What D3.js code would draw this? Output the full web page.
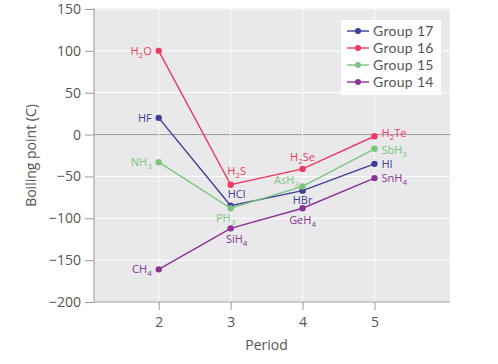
<!DOCTYPE html>
<html><head><meta charset="utf-8">
<script src="https://cdn.jsdelivr.net/npm/d3@7"></script>
<style>
body{margin:0;background:#fff;}
text{font-family:"Open Sans",sans-serif;}
</style></head>
<body><svg id="c" width="498" height="364"></svg>
<script>
const periods = [2, 3, 4, 5];
const yTicks = [150, 100, 50, 0, -50, -100, -150, -200];
const seriesNames = ["Group 17", "Group 16", "Group 15", "Group 14"];
const seriesColors = ["#3d3d98", "#ee3a60", "#7cc57c", "#8c3196"];
const group17 = [20, -85, -67, -35];
const group16 = [100, -60, -41, -2];
const group15 = [-33, -88, -62, -17];
const group14 = [-161, -112, -88, -52];
const labels17 = [["HF",""],["HCl",""],["HBr",""],["HI",""]];
const labels16 = [["H","2","O"],["H","2","S"],["H","2","Se"],["H","2","Te"]];
const labels15 = [["NH","3"],["PH","3"],["AsH","3"],["SbH","3"]];
const labels14 = [["CH","4"],["SiH","4"],["GeH","4"],["SnH","4"]];
// label placement: [dx, dy, anchor]
const place17 = [[-7,4,"end"],[6,-8,"middle"],[0,13,"middle"],[7,4,"start"]];
const place16 = [[-7,4,"end"],[6,-10,"middle"],[0,-8,"middle"],[7,1,"start"]];
const place15 = [[-7,4,"end"],[-5,14,"middle"],[-16,-2,"middle"],[7,5,"start"]];
const place14 = [[-7,4,"end"],[6,15,"middle"],[0,16,"middle"],[7,4,"start"]];

const seriesVals = [group17, group16, group15, group14];
const seriesLabels = [labels17, labels16, labels15, labels14];
const seriesPlace = [place17, place16, place15, place14];

const svg = d3.select("#c");
const L = 94, R = 450, T = 9, B = 302;
const x = d3.scaleLinear().domain([1.1, 6.05]).range([L, R]);
const y = d3.scaleLinear().domain([-200, 150]).range([B, T]);

svg.append("rect").attr("x", L).attr("y", T - 1).attr("width", R - L).attr("height", B - T + 1).attr("fill", "#e9e9ec");

// grid
svg.append("g").selectAll("line").data(yTicks).join("line")
  .attr("x1", L).attr("x2", R).attr("y1", d => y(d)).attr("y2", d => y(d))
  .attr("stroke", d => d === 0 ? "#9a9a9a" : "#fff").attr("stroke-width", 1);
svg.append("g").selectAll("line").data(periods).join("line")
  .attr("x1", d => x(d)).attr("x2", d => x(d)).attr("y1", T - 1).attr("y2", B)
  .attr("stroke", "#fff").attr("stroke-width", 1).attr("stroke-dasharray", "3,1");

// axes
const yAxis = svg.append("g").attr("transform", `translate(${L},0)`)
  .call(d3.axisLeft(y).tickValues(yTicks).tickSize(9).tickPadding(4).tickFormat(d => d < 0 ? "\u2212" + Math.abs(d) : d));
const xAxis = svg.append("g").attr("transform", `translate(0,${B})`)
  .call(d3.axisBottom(x).tickValues(periods).tickSize(8).tickPadding(7).tickFormat(d3.format("d")));
[yAxis, xAxis].forEach(g => {
  g.select(".domain").attr("stroke", "#9a9a9a");
  g.selectAll(".tick line").attr("stroke", "#9a9a9a");
  g.selectAll("text").attr("fill", "#555").attr("font-size", 14).attr("font-family", "Open Sans");
});
yAxis.select(".domain").attr("d", `M0,${T - 1}V${B}`);
xAxis.select(".domain").attr("d", `M${L},0H${R}`);

svg.append("text").attr("x", x(3.5)).attr("y", 350).attr("text-anchor", "middle")
  .attr("fill", "#555").attr("font-size", 14).text("Period");
svg.append("text").attr("transform", `translate(36,${(T + B) / 2}) rotate(-90)`).attr("text-anchor", "middle")
  .attr("fill", "#555").attr("font-size", 14).text("Boiling point (C)");

const line = d3.line().x((d, i) => x(periods[i])).y(d => y(d));
seriesVals.forEach((vals, s) => {
  const col = seriesColors[s];
  svg.append("path").attr("d", line(vals)).attr("fill", "none").attr("stroke", col).attr("stroke-width", 1.4);
  svg.append("g").selectAll("circle").data(vals).join("circle")
    .attr("cx", (d, i) => x(periods[i])).attr("cy", d => y(d)).attr("r", 3.2).attr("fill", col);
  vals.forEach((v, i) => {
    const lab = seriesLabels[s][i], p = seriesPlace[s][i];
    const t = svg.append("text").attr("x", x(periods[i]) + p[0]).attr("y", y(v) + p[1])
      .attr("text-anchor", p[2]).attr("fill", col).attr("font-size", 11);
    t.append("tspan").text(lab[0]);
    if (lab[1]) {
      t.append("tspan").attr("font-size", 8).attr("dy", 3).text(lab[1]);
      if (lab[2]) t.append("tspan").attr("dy", -3).text(lab[2]);
    }
  });
});

// legend
const lg = svg.append("g");
lg.append("rect").attr("x", 341).attr("y", 20).attr("width", 100).attr("height", 75).attr("fill", "#fff");
seriesNames.forEach((n, s) => {
  const yy = 31 + s * 17;
  lg.append("line").attr("x1", 347).attr("x2", 369).attr("y1", yy).attr("y2", yy).attr("stroke", seriesColors[s]).attr("stroke-width", 1.4);
  lg.append("circle").attr("cx", 358).attr("cy", yy).attr("r", 3).attr("fill", seriesColors[s]);
  lg.append("text").attr("x", 373).attr("y", yy + 5).attr("fill", "#555").attr("font-size", 14)
    .style("font-family", "Lato, sans-serif").attr("letter-spacing", 0.3).text(n);
});
</script></body></html>
